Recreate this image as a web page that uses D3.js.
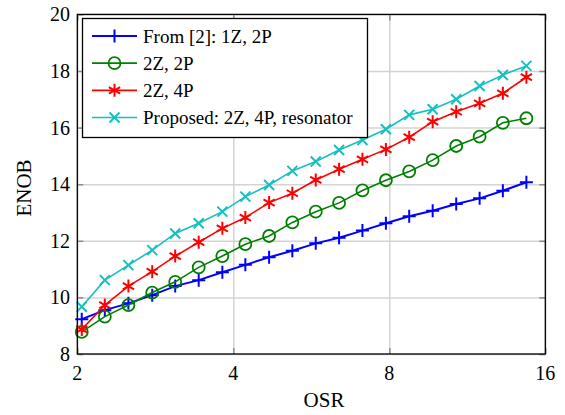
<!DOCTYPE html>
<html>
<head>
<meta charset="utf-8">
<script src="https://cdn.jsdelivr.net/npm/d3@7"></script>
<style>
  body { margin: 0; background: #fff; }
  text { font-family: "Liberation Serif", "DejaVu Serif", serif; fill: #000; }
</style>
</head>
<body>
<script>
// OSR sample points (log spaced)
const osr = [2.04, 2.26, 2.51, 2.79, 3.09, 3.43, 3.81, 4.22, 4.69, 5.2,
  5.77, 6.4, 7.1, 7.88, 8.74, 9.7, 10.77, 11.95, 13.25, 14.71];

const enobRef = [9.23, 9.55, 9.79, 10.08, 10.4, 10.61, 10.89, 11.15, 11.42, 11.65,
  11.91, 12.11, 12.36, 12.62, 12.87, 13.06, 13.3, 13.5, 13.77, 14.07];
const enob2Z2P = [8.78, 9.32, 9.73, 10.17, 10.55, 11.06, 11.46, 11.88, 12.17, 12.65,
  13.03, 13.34, 13.78, 14.14, 14.45, 14.85, 15.35, 15.68, 16.17, 16.33];
const enob2Z4P = [8.87, 9.73, 10.4, 10.91, 11.46, 11.95, 12.44, 12.82, 13.35, 13.68,
  14.15, 14.53, 14.88, 15.23, 15.66, 16.21, 16.56, 16.86, 17.21, 17.78];
const enobProp = [9.67, 10.61, 11.14, 11.67, 12.26, 12.62, 13.03, 13.56, 13.97, 14.47,
  14.8, 15.21, 15.56, 15.94, 16.45, 16.65, 17.0, 17.47, 17.86, 18.18];

const seriesNames = ['From [2]: 1Z, 2P', '2Z, 2P', '2Z, 4P', 'Proposed: 2Z, 4P, resonator'];
const xTicks = [2, 4, 8, 16];
const yTicks = [8, 10, 12, 14, 16, 18, 20];

const series = [
  { name: seriesNames[0], values: enobRef, color: '#0000ff', marker: 'plus', width: 2 },
  { name: seriesNames[1], values: enob2Z2P, color: '#008000', marker: 'circle', width: 1.6 },
  { name: seriesNames[2], values: enob2Z4P, color: '#ff0000', marker: 'asterisk', width: 1.6 },
  { name: seriesNames[3], values: enobProp, color: '#17bfbf', marker: 'cross', width: 1.6 },
];

const W = 565, H = 415;
const m = { left: 77.3, right: 545.3, top: 14.4, bottom: 354 };

const svg = d3.select('body').append('svg').attr('width', W).attr('height', H);

const x = d3.scaleLog().base(2).domain([2, 16]).range([m.left, m.right]);
const y = d3.scaleLinear().domain([8, 20]).range([m.bottom, m.top]);
const pw = m.right - m.left, ph = m.bottom - m.top;

// grid
svg.append('g')
  .attr('transform', `translate(0,${m.bottom})`)
  .call(d3.axisBottom(x).tickValues(xTicks).tickSize(-ph).tickFormat(''))
  .call(g => g.select('.domain').remove())
  .call(g => g.selectAll('line').attr('stroke', '#d4d4d4').attr('stroke-width', 1.5));
svg.append('g')
  .attr('transform', `translate(${m.left},0)`)
  .call(d3.axisLeft(y).tickValues(yTicks).tickSize(-pw).tickFormat(''))
  .call(g => g.select('.domain').remove())
  .call(g => g.selectAll('line').attr('stroke', '#d4d4d4').attr('stroke-width', 1.5));

// inward ticks on all sides
const tk = 6;
function styleTicks(g) {
  g.select('.domain').remove();
  g.selectAll('line').attr('stroke', '#8c8c8c').attr('stroke-width', 1.5);
}
svg.append('g').attr('transform', `translate(0,${m.bottom})`)
  .call(d3.axisBottom(x).tickValues(xTicks).tickSize(-tk).tickFormat(''))
  .call(styleTicks);
svg.append('g').attr('transform', `translate(0,${m.top})`)
  .call(d3.axisTop(x).tickValues(xTicks).tickSize(-tk).tickFormat(''))
  .call(styleTicks);
svg.append('g').attr('transform', `translate(${m.left},0)`)
  .call(d3.axisLeft(y).tickValues(yTicks).tickSize(-tk).tickFormat(''))
  .call(styleTicks);
svg.append('g').attr('transform', `translate(${m.right},0)`)
  .call(d3.axisRight(y).tickValues(yTicks).tickSize(-tk).tickFormat(''))
  .call(styleTicks);

// tick labels
svg.append('g').selectAll('text').data(xTicks).enter().append('text')
  .attr('x', d => x(d)).attr('y', 380)
  .attr('text-anchor', 'middle').attr('font-size', 20)
  .text(d => d);
svg.append('g').selectAll('text').data(yTicks).enter().append('text')
  .attr('x', 70).attr('y', d => y(d) + 7)
  .attr('text-anchor', 'end').attr('font-size', 20)
  .text(d => d);

// axis labels
svg.append('text').attr('x', 324).attr('y', 407)
  .attr('text-anchor', 'middle').attr('font-size', 21).text('OSR');
svg.append('text').attr('transform', 'translate(31,188) rotate(-90)')
  .attr('text-anchor', 'middle').attr('font-size', 21).text('ENOB');

// markers
function markerPath(type) {
  if (type === 'plus') return 'M-6.5,0H6.5M0,-6.5V6.5';
  if (type === 'cross') return 'M-5,-5L5,5M-5,5L5,-5';
  if (type === 'asterisk') {
    const r = 6.5, a = r * Math.cos(Math.PI / 6), b = r * Math.sin(Math.PI / 6);
    return `M0,${-r}V${r}M${-a},${-b}L${a},${b}M${-a},${b}L${a},${-b}`;
  }
  return null;
}
function drawMarker(sel, s) {
  if (s.marker === 'circle') {
    sel.append('circle').attr('r', 6).attr('fill', 'none')
      .attr('stroke', s.color).attr('stroke-width', 1.8);
  } else {
    sel.append('path').attr('d', markerPath(s.marker)).attr('fill', 'none')
      .attr('stroke', s.color).attr('stroke-width', 2);
  }
}

const line = d3.line().x((d, i) => x(osr[i])).y(d => y(d));

series.forEach(s => {
  const g = svg.append('g');
  g.append('path').datum(s.values).attr('d', line)
    .attr('fill', 'none').attr('stroke', s.color).attr('stroke-width', s.width);
  g.selectAll('g.mk').data(s.values).enter().append('g').attr('class', 'mk')
    .attr('transform', (d, i) => `translate(${x(osr[i])},${y(d)})`)
    .each(function () { drawMarker(d3.select(this), s); });
});

// frame
svg.append('rect').attr('x', m.left).attr('y', m.top).attr('width', pw).attr('height', ph)
  .attr('fill', 'none').attr('stroke', '#000').attr('stroke-width', 1.3);

// legend
const lg = svg.append('g');
lg.append('rect').attr('x', 82.5).attr('y', 18.5).attr('width', 285).attr('height', 119)
  .attr('fill', '#fff').attr('stroke', '#000').attr('stroke-width', 1.3);
const rowY = d3.scalePoint().domain(seriesNames).range([36, 117.5]);
series.forEach(s => {
  const yy = rowY(s.name);
  lg.append('line').attr('x1', 92).attr('x2', 137).attr('y1', yy).attr('y2', yy)
    .attr('stroke', s.color).attr('stroke-width', s.width);
  drawMarker(lg.append('g').attr('transform', `translate(114.5,${yy})`), s);
  lg.append('text').attr('x', 143).attr('y', yy + 6.5).attr('font-size', 19).text(s.name);
});
</script>
</body>
</html>
